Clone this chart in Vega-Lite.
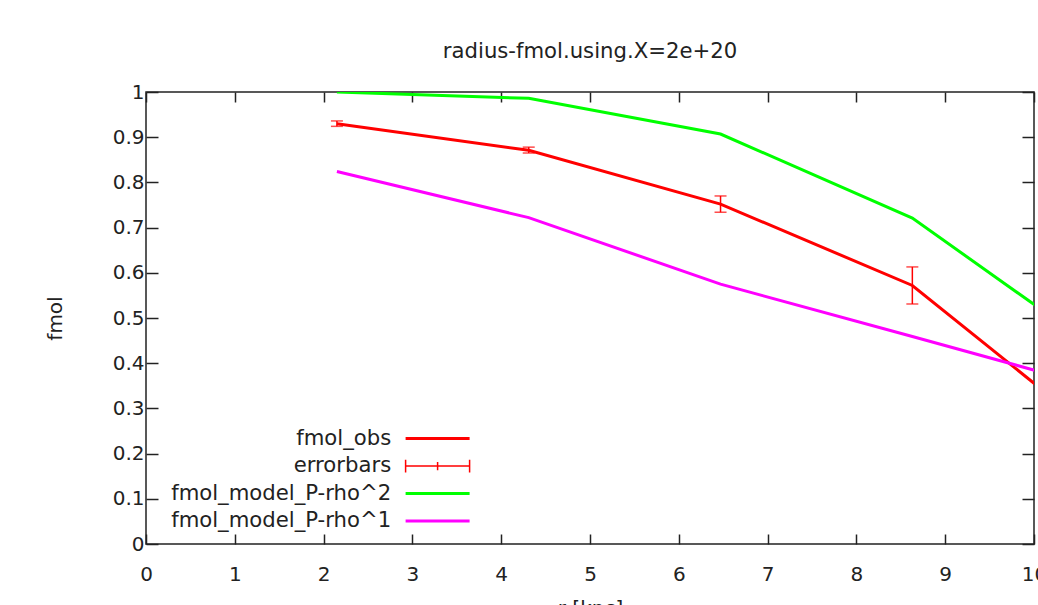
{
  "$schema": "https://vega.github.io/schema/vega-lite/v6.json",
  "width": 888,
  "height": 452,
  "autosize": {"type": "none"},
  "padding": {"left": 146, "top": 92, "right": 4, "bottom": 61},
  "background": "white",
  "title": {"text": "radius-fmol.using.X=2e+20", "fontSize": 21.2, "font": "DejaVu Sans", "fontWeight": "normal", "color": "#222", "offset": 20, "anchor": "middle"},
  "config": {
    "font": "DejaVu Sans",
    "view": {"stroke": "#222", "strokeWidth": 1.5},
    "axis": {"grid": false, "domain": false, "tickColor": "#222", "tickWidth": 1.5, "labelColor": "#222", "labelFont": "DejaVu Sans", "labelFontSize": 20, "titleFont": "DejaVu Sans", "titleFontSize": 20, "titleFontWeight": "normal", "titleColor": "#222"}
  },
  "datasets": {
    "lines": [
      {"series": "fmol_obs", "r": 2.15, "fmol": 0.930},
      {"series": "fmol_obs", "r": 4.31, "fmol": 0.871},
      {"series": "fmol_obs", "r": 6.47, "fmol": 0.752},
      {"series": "fmol_obs", "r": 8.63, "fmol": 0.572},
      {"series": "fmol_obs", "r": 10.79, "fmol": 0.231},
      {"series": "fmol_model_P-rho^2", "r": 2.15, "fmol": 1.0},
      {"series": "fmol_model_P-rho^2", "r": 4.31, "fmol": 0.986},
      {"series": "fmol_model_P-rho^2", "r": 6.47, "fmol": 0.907},
      {"series": "fmol_model_P-rho^2", "r": 8.63, "fmol": 0.721},
      {"series": "fmol_model_P-rho^2", "r": 10.79, "fmol": 0.420},
      {"series": "fmol_model_P-rho^1", "r": 2.15, "fmol": 0.824},
      {"series": "fmol_model_P-rho^1", "r": 4.31, "fmol": 0.722},
      {"series": "fmol_model_P-rho^1", "r": 6.47, "fmol": 0.575},
      {"series": "fmol_model_P-rho^1", "r": 8.63, "fmol": 0.459},
      {"series": "fmol_model_P-rho^1", "r": 10.79, "fmol": 0.342}
    ],
    "err": [
      {"r": 2.15, "lo": 0.924, "hi": 0.936},
      {"r": 4.31, "lo": 0.865, "hi": 0.878},
      {"r": 6.47, "lo": 0.734, "hi": 0.770},
      {"r": 8.63, "lo": 0.531, "hi": 0.613}
    ]
  },
  "layer": [
    {
      "data": {"name": "lines"},
      "mark": {"type": "line", "strokeWidth": 3, "clip": true},
      "encoding": {
        "x": {"field": "r", "type": "quantitative", "scale": {"domain": [0, 10], "nice": false, "zero": false},
              "axis": {"orient": "bottom", "values": [0,1,2,3,4,5,6,7,8,9,10], "tickSize": -10, "labelPadding": 30, "labelFlush": false, "labelOverlap": false, "title": "r [kpc]", "titlePadding": 14}},
        "y": {"field": "fmol", "type": "quantitative", "scale": {"domain": [0, 1], "nice": false, "zero": false},
              "axis": {"orient": "left", "values": [0,0.1,0.2,0.3,0.4,0.5,0.6,0.7,0.8,0.9,1], "format": "~g", "tickSize": -12, "labelPadding": 14, "title": "fmol", "titlePadding": 47}},
        "color": {"field": "series", "type": "nominal",
          "scale": {"domain": ["fmol_obs", "errorbars", "fmol_model_P-rho^2", "fmol_model_P-rho^1"], "range": ["#ff0000", "#ff0000", "#00ff00", "#ff00ff"]},
          "legend": {
            "orient": "none", "legendX": 281, "legendY": 336, "title": null, "padding": 0,
            "labelFontSize": 21.2, "labelFont": "DejaVu Sans", "labelColor": "#222", "labelAlign": "right", "labelOffset": -57, "labelLimit": 500,
            "symbolSize": 4096, "symbolStrokeWidth": 3, "symbolType": "stroke", "rowPadding": 5.5,
            "encode": {"symbols": {"update": {
              "shape": {"signal": "datum.value === 'errorbars' ? 'M-10,0M-1,0H1M-1,-0.2V0.2M0,-0.13V0.13M1,-0.2V0.2' : 'M-10,0M-1,0H1'"},
              "strokeWidth": {"signal": "datum.value === 'errorbars' ? 1.5 : 3"},
              "fill": {"value": "transparent"}
            }}}
          }
        }
      }
    },
    {
      "data": {"name": "err"},
      "mark": {"type": "errorbar", "ticks": {"size": 12, "thickness": 1.5}, "thickness": 1.5},
      "encoding": {
        "x": {"field": "r", "type": "quantitative", "axis": null},
        "y": {"field": "lo", "type": "quantitative", "axis": null},
        "y2": {"field": "hi"},
        "color": {"datum": "errorbars", "type": "nominal"}
      }
    },
    {
      "data": {"name": "err"},
      "mark": {"type": "point", "opacity": 0, "size": 0},
      "encoding": {
        "x": {"field": "r", "type": "quantitative", "axis": {"orient": "top", "values": [0,1,2,3,4,5,6,7,8,9,10], "tickSize": -10, "labels": false, "title": null}},
        "y": {"field": "lo", "type": "quantitative", "axis": {"orient": "right", "values": [0,0.1,0.2,0.3,0.4,0.5,0.6,0.7,0.8,0.9,1], "tickSize": -12, "labels": false, "title": null}}
      }
    }
  ],
  "resolve": {"axis": {"x": "independent", "y": "independent"}}
}
